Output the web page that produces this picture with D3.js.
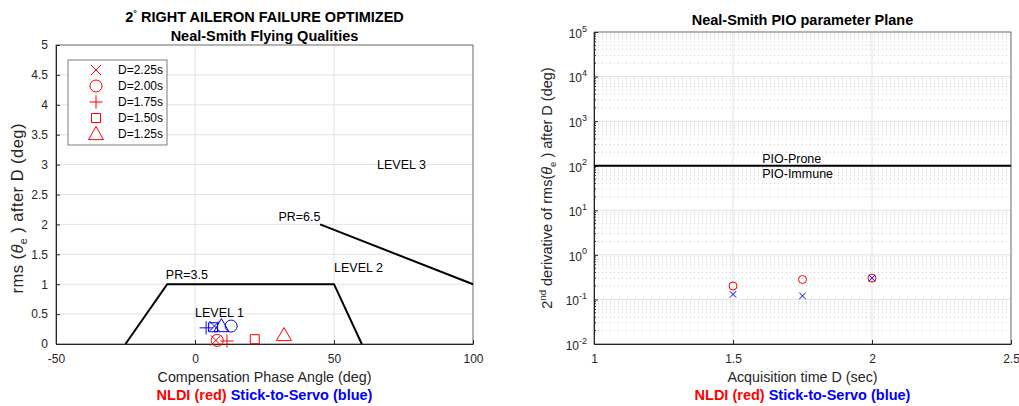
<!DOCTYPE html>
<html>
<head>
<meta charset="utf-8">
<script src="https://cdn.jsdelivr.net/npm/d3@7"></script>
<style>
  body { margin: 0; background: #fff; }
  text { font-family: "Liberation Sans", Arial, sans-serif; }
  .axis path, .axis line { stroke: #262626; }
  .axis text { fill: #262626; font-size: 12px; }
</style>
</head>
<body>
<svg id="chart" width="1019" height="406"></svg>
<script>
// ---- data ----
// left panel: Neal-Smith flying qualities
var leftXTicks = [-50, 0, 50, 100];
var leftYTicks = [0, 0.5, 1, 1.5, 2, 2.5, 3, 3.5, 4, 4.5, 5];
var delayLabels = ["D=2.25s", "D=2.00s", "D=1.75s", "D=1.50s", "D=1.25s"];
var delayMarkers = ["x", "o", "+", "s", "t"];
var nldiPhase = [7.5, 8, 11.5, 21.5, 32];
var nldiRms = [0.06, 0.06, 0.05, 0.08, 0.15];
var servoPhase = [7, 13, 4, 6.5, 9.5];
var servoRms = [0.3, 0.3, 0.27, 0.28, 0.3];
var level1X = [-25, -10, 50, 60];
var level1Y = [0, 1, 1, 0];
var level3X = [45, 100];
var level3Y = [2, 1];

// right panel: PIO parameter plane
var rightXTicks = [1, 1.5, 2, 2.5];
var rightYExp = [-2, -1, 0, 1, 2, 3, 4, 5];
var acqTime = [1.5, 1.75, 2];
var nldiPio = [0.2, 0.28, 0.3];
var servoPio = [0.13, 0.12, 0.3];
var pioLimit = 100;

var svg = d3.select("#chart");
var red = "#ff0000", blue = "#0000ff";
var plain = function(d) { return String(d); };   // keeps "-50" with a hyphen like matlab

// marker paths, s is roughly the half width
var markerScale = {x: 0.85, o: 1, "+": 1.1, s: 0.75, t: 1.25};
function marker(type, s) {
  s = s * markerScale[type];
  if (type == "x") return "M" + -s + "," + -s + "L" + s + "," + s + "M" + -s + "," + s + "L" + s + "," + -s;
  if (type == "+") return "M" + -s + ",0L" + s + ",0M0," + -s + "L0," + s;
  if (type == "o") return "M" + s + ",0A" + s + "," + s + " 0 1,1 " + -s + ",0A" + s + "," + s + " 0 1,1 " + s + ",0Z";
  if (type == "s") return "M" + -s + "," + -s + "H" + s + "V" + s + "H" + -s + "Z";
  if (type == "t") return "M0," + -s + "L" + s + "," + s * 0.75 + "L" + -s + "," + s * 0.75 + "Z";
}

// ================= LEFT PANEL =================
var L = {left: 56, right: 473, top: 45, bottom: 344};
var x = d3.scaleLinear().domain([-50, 100]).range([L.left, L.right]);
var y = d3.scaleLinear().domain([0, 5]).range([L.bottom, L.top]);
var lg = svg.append("g");

// grid
lg.append("g").selectAll("line").data(leftXTicks).enter().append("line")
  .attr("x1", x).attr("x2", x).attr("y1", L.top).attr("y2", L.bottom)
  .attr("stroke", "#e3e3e3");
lg.append("g").selectAll("line").data(leftYTicks).enter().append("line")
  .attr("y1", y).attr("y2", y).attr("x1", L.left).attr("x2", L.right)
  .attr("stroke", "#e3e3e3");

// axes (ticks inward)
lg.append("g").attr("class", "axis").attr("transform", "translate(0," + L.bottom + ")")
  .call(d3.axisBottom(x).tickValues(leftXTicks).tickFormat(plain).tickSizeInner(-4).tickSizeOuter(0).tickPadding(10));
lg.append("g").attr("class", "axis").attr("transform", "translate(" + L.left + ",0)")
  .call(d3.axisLeft(y).tickValues(leftYTicks).tickFormat(plain).tickSizeInner(-4).tickSizeOuter(0).tickPadding(8));
lg.append("rect").attr("x", L.left).attr("y", L.top).attr("width", L.right - L.left).attr("height", L.bottom - L.top)
  .attr("fill", "none").attr("stroke", "#262626").attr("stroke-width", 0.6);

// boundaries
var line = d3.line().x(function(d) { return x(d[0]); }).y(function(d) { return y(d[1]); });
lg.append("path").datum(d3.zip(level1X, level1Y)).attr("d", line)
  .attr("fill", "none").attr("stroke", "#000").attr("stroke-width", 2);
lg.append("path").datum(d3.zip(level3X, level3Y)).attr("d", line)
  .attr("fill", "none").attr("stroke", "#000").attr("stroke-width", 2);

// region labels
var labels = [
  {t: "PR=3.5", x: -10.5, y: 1.08},
  {t: "PR=6.5", x: 30, y: 2.05},
  {t: "LEVEL 1", x: 0, y: 0.45},
  {t: "LEVEL 2", x: 50, y: 1.2},
  {t: "LEVEL 3", x: 65.5, y: 2.93}
];
lg.append("g").selectAll("text").data(labels).enter().append("text")
  .attr("x", function(d) { return x(d.x); }).attr("y", function(d) { return y(d.y); })
  .attr("font-size", 12.5).attr("fill", "#000").text(function(d) { return d.t; });

// data markers
function drawPoints(g, xs, ys, types, color, s) {
  g.append("g").selectAll("path").data(d3.range(xs.length)).enter().append("path")
    .attr("transform", function(i) { return "translate(" + x(xs[i]) + "," + y(ys[i]) + ")"; })
    .attr("d", function(i) { return marker(types[i], s); })
    .attr("fill", "none").attr("stroke", color).attr("stroke-width", 1);
}
drawPoints(lg, servoPhase, servoRms, delayMarkers, blue, 6);
drawPoints(lg, nldiPhase, nldiRms, delayMarkers, red, 6);

// legend
var leg = lg.append("g").attr("transform", "translate(68,60)");
leg.append("rect").attr("width", 99).attr("height", 85).attr("fill", "#fff").attr("stroke", "#262626").attr("stroke-width", 0.6);
var item = leg.selectAll("g.item").data(delayLabels).enter().append("g").attr("class", "item")
  .attr("transform", function(d, i) { return "translate(0," + (10 + i * 16) + ")"; });
item.append("path").attr("transform", "translate(28,0)")
  .attr("d", function(d, i) { return marker(delayMarkers[i], 6); })
  .attr("fill", "none").attr("stroke", red);
item.append("text").attr("x", 50).attr("dy", "0.35em").attr("font-size", 12).attr("fill", "#000")
  .text(function(d) { return d; });

// titles / axis labels
var lcx = (L.left + L.right) / 2;
var t1 = lg.append("text").attr("x", lcx).attr("y", 22).attr("text-anchor", "middle")
  .attr("font-size", 14.5).attr("font-weight", "bold").attr("fill", "#000");
t1.append("tspan").text("2");
t1.append("tspan").attr("font-size", 9).attr("dy", -6).text("°");
t1.append("tspan").attr("dy", 6).text(" RIGHT AILERON FAILURE OPTIMIZED");
lg.append("text").attr("x", lcx).attr("y", 41).attr("text-anchor", "middle")
  .attr("font-size", 14.5).attr("font-weight", "bold").attr("fill", "#000").text("Neal-Smith Flying Qualities");
lg.append("text").attr("x", lcx).attr("y", 382).attr("text-anchor", "middle")
  .attr("font-size", 14.3).attr("fill", "#262626").text("Compensation Phase Angle (deg)");
var yl = lg.append("text").attr("transform", "translate(23," + ((L.top + L.bottom) / 2 + 14) + ") rotate(-90)")
  .attr("text-anchor", "middle").attr("font-size", 16.5).attr("fill", "#262626")
  .attr("textLength", 170).attr("lengthAdjust", "spacing");
yl.append("tspan").text("rms (");
yl.append("tspan").attr("font-style", "italic").text("θ");
yl.append("tspan").attr("font-size", 10.5).attr("dy", 4).text("e");
yl.append("tspan").attr("dy", -4).text(" ) after D (deg)");

function bottomNote(cx) {
  var n = svg.append("text").attr("x", cx).attr("y", 400).attr("text-anchor", "middle")
    .attr("font-size", 14.5).attr("font-weight", "bold");
  n.append("tspan").attr("fill", red).text("NLDI (red) ");
  n.append("tspan").attr("fill", blue).text("Stick-to-Servo (blue)");
}
bottomNote(lcx);

// ================= RIGHT PANEL =================
var R = {left: 594, right: 1011, top: 32, bottom: 344};
var x2 = d3.scaleLinear().domain([1, 2.5]).range([R.left, R.right]);
var y2 = d3.scaleLog().domain([1e-2, 1e5]).range([R.bottom, R.top]);
var rg = svg.append("g");

// minor grid (dotted) and major grid
var minor = [];
rightYExp.slice(0, -1).forEach(function(e) {
  for (var k = 2; k <= 9; k++) minor.push(k * Math.pow(10, e));
});
rg.append("g").selectAll("line").data(minor).enter().append("line")
  .attr("y1", y2).attr("y2", y2).attr("x1", R.left).attr("x2", R.right)
  .attr("stroke", "#cfcfcf").attr("stroke-dasharray", "1,3");
rg.append("g").selectAll("line").data(rightYExp).enter().append("line")
  .attr("y1", function(e) { return y2(Math.pow(10, e)); }).attr("y2", function(e) { return y2(Math.pow(10, e)); })
  .attr("x1", R.left).attr("x2", R.right).attr("stroke", "#e3e3e3");
rg.append("g").selectAll("line").data(rightXTicks).enter().append("line")
  .attr("x1", x2).attr("x2", x2).attr("y1", R.top).attr("y2", R.bottom).attr("stroke", "#e3e3e3");

// axes
rg.append("g").attr("class", "axis").attr("transform", "translate(0," + R.bottom + ")")
  .call(d3.axisBottom(x2).tickValues(rightXTicks).tickFormat(plain).tickSizeInner(-4).tickSizeOuter(0).tickPadding(10));
var ya = rg.append("g").attr("class", "axis").attr("transform", "translate(" + R.left + ",0)")
  .call(d3.axisLeft(y2).tickValues(rightYExp.map(function(e) { return Math.pow(10, e); }))
    .tickFormat("").tickSizeInner(-4).tickSizeOuter(0));
ya.selectAll(".tick").each(function(d) {
  var t = d3.select(this).append("text").attr("x", -7).attr("dy", "0.45em").attr("text-anchor", "end");
  t.append("tspan").text("10");
  t.append("tspan").attr("font-size", 9).attr("dy", "-0.7em").text(plain(Math.round(Math.log10(d))));
});
ya.append("g").selectAll("line").data(minor).enter().append("line")
  .attr("x1", 0).attr("x2", 2).attr("y1", y2).attr("y2", y2).attr("stroke", "#262626");
rg.append("rect").attr("x", R.left).attr("y", R.top).attr("width", R.right - R.left).attr("height", R.bottom - R.top)
  .attr("fill", "none").attr("stroke", "#262626").attr("stroke-width", 0.6);

// PIO boundary
rg.append("line").attr("x1", x2(1)).attr("x2", x2(2.5)).attr("y1", y2(pioLimit)).attr("y2", y2(pioLimit))
  .attr("stroke", "#000").attr("stroke-width", 2);
rg.append("text").attr("x", x2(1.605)).attr("y", y2(pioLimit) - 3).attr("font-size", 12.5).attr("fill", "#000").text("PIO-Prone");
rg.append("text").attr("x", x2(1.605)).attr("y", y2(pioLimit) + 12).attr("font-size", 12.5).attr("fill", "#000").text("PIO-Immune");

// points
rg.append("g").selectAll("path").data(acqTime).enter().append("path")
  .attr("transform", function(d, i) { return "translate(" + x2(d) + "," + y2(nldiPio[i]) + ")"; })
  .attr("d", marker("o", 4)).attr("fill", "none").attr("stroke", red);
rg.append("g").selectAll("path").data(acqTime).enter().append("path")
  .attr("transform", function(d, i) { return "translate(" + x2(d) + "," + y2(servoPio[i]) + ")"; })
  .attr("d", marker("x", 3.8)).attr("fill", "none").attr("stroke", blue);

// titles
var rcx = (R.left + R.right) / 2;
rg.append("text").attr("x", rcx).attr("y", 25).attr("text-anchor", "middle")
  .attr("font-size", 14.5).attr("font-weight", "bold").attr("fill", "#000").text("Neal-Smith PIO parameter Plane");
rg.append("text").attr("x", rcx).attr("y", 382).attr("text-anchor", "middle")
  .attr("font-size", 14.3).attr("fill", "#262626").text("Acquisition time D (sec)");
var yl2 = rg.append("text").attr("transform", "translate(552," + ((R.top + R.bottom) / 2) + ") rotate(-90)")
  .attr("text-anchor", "middle").attr("font-size", 14.5).attr("fill", "#262626");
yl2.append("tspan").text("2");
yl2.append("tspan").attr("font-size", 9.5).attr("dy", -6).text("nd");
yl2.append("tspan").attr("dy", 6).text(" derivative of rms(");
yl2.append("tspan").attr("font-style", "italic").text("θ");
yl2.append("tspan").attr("font-size", 9.5).attr("dy", 4).text("e");
yl2.append("tspan").attr("dy", -4).text(" ) after D (deg)");
bottomNote(rcx);
</script>
</body>
</html>
